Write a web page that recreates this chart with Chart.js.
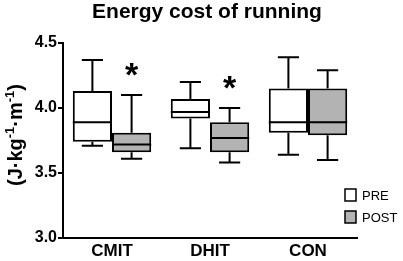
<!DOCTYPE html>
<html>
<head>
<meta charset="utf-8">
<script src="https://cdn.jsdelivr.net/npm/chart.js@4"></script>
<style>
  html, body { margin: 0; padding: 0; background: #fff; }
  canvas { display: block; }
</style>
</head>
<body>
<canvas id="boxChart" width="403" height="261"></canvas>
<script>
// Energy cost of running, J·kg-1·m-1
const categories = ['CMIT', 'DHIT', 'CON'];
const seriesNames = ['PRE', 'POST'];

const preMin = [3.71, 3.69, 3.64];
const preQ1 = [3.74, 3.92, 3.81];
const preMedian = [3.89, 3.97, 3.89];
const preQ3 = [4.13, 4.07, 4.15];
const preMax = [4.37, 4.20, 4.39];

const postMin = [3.61, 3.58, 3.60];
const postQ1 = [3.66, 3.66, 3.79];
const postMedian = [3.72, 3.77, 3.89];
const postQ3 = [3.81, 3.89, 4.15];
const postMax = [4.10, 4.00, 4.29];

// asterisk over POST box where PRE vs POST differs
const significant = [true, true, false];

const yTicks = [3.0, 3.5, 4.0, 4.5];

const FONT = "'Liberation Sans', Arial, sans-serif";
const GRAY = '#b3b3b3';

const stats = [
  { min: preMin, median: preMedian, max: preMax },
  { min: postMin, median: postMedian, max: postMax }
];

// whiskers, medians, asterisks, titles and legend
const boxExtras = {
  id: 'boxExtras',
  afterDatasetsDraw(chart) {
    const ctx = chart.ctx;
    const y = chart.scales.y;
    ctx.save();
    ctx.strokeStyle = '#000';
    ctx.lineWidth = 2;
    chart.data.datasets.forEach((ds, di) => {
      const meta = chart.getDatasetMeta(di);
      const st = stats[di];
      meta.data.forEach((bar, i) => {
        const x = bar.x;
        const hw = bar.width / 2;
        const cap = bar.width * 0.27;
        const yMed = y.getPixelForValue(st.median[i]);
        const yMin = y.getPixelForValue(st.min[i]);
        const yMax = y.getPixelForValue(st.max[i]);
        const yTop = y.getPixelForValue(ds.data[i][1]);
        const yBot = y.getPixelForValue(ds.data[i][0]);
        ctx.beginPath();
        // median
        ctx.moveTo(x - hw, yMed); ctx.lineTo(x + hw, yMed);
        // upper whisker
        ctx.moveTo(x, yTop); ctx.lineTo(x, yMax);
        ctx.moveTo(x - cap, yMax); ctx.lineTo(x + cap, yMax);
        // lower whisker
        ctx.moveTo(x, yBot); ctx.lineTo(x, yMin);
        ctx.moveTo(x - cap, yMin); ctx.lineTo(x + cap, yMin);
        ctx.stroke();

        if (di === 1 && significant[i]) {
          ctx.fillStyle = '#000';
          ctx.font = 'bold 34px ' + FONT;
          ctx.textAlign = 'center';
          ctx.textBaseline = 'alphabetic';
          ctx.fillText('*', x, yMax - 9);
        }
      });
    });
    ctx.restore();
  },
  afterDraw(chart) {
    const ctx = chart.ctx;
    ctx.save();
    ctx.fillStyle = '#000';

    // main title
    ctx.font = 'bold 21px ' + FONT;
    ctx.textAlign = 'center';
    ctx.textBaseline = 'alphabetic';
    ctx.fillText('Energy cost of running', 207, 18);

    // y axis title with superscripts
    const parts = [
      { t: '(J\u00b7kg', sup: false },
      { t: '-1', sup: true },
      { t: '\u00b7m', sup: false },
      { t: '-1', sup: true },
      { t: ')', sup: false }
    ];
    const big = 'bold 20px ' + FONT;
    const small = 'bold 13px ' + FONT;
    let total = 0;
    parts.forEach(p => {
      ctx.font = p.sup ? small : big;
      p.w = ctx.measureText(p.t).width;
      total += p.w;
    });
    ctx.translate(22, 135);
    ctx.rotate(-Math.PI / 2);
    ctx.textAlign = 'left';
    let px = -total / 2;
    parts.forEach(p => {
      ctx.font = p.sup ? small : big;
      ctx.fillText(p.t, px, p.sup ? -8 : 0);
      px += p.w;
    });
    ctx.setTransform(1, 0, 0, 1, 0, 0);

    // legend
    const fills = ['#fff', GRAY];
    ctx.font = '13px ' + FONT;
    ctx.textBaseline = 'middle';
    ctx.textAlign = 'left';
    seriesNames.forEach((name, k) => {
      const cy = 195 + k * 22;
      ctx.fillStyle = fills[k];
      ctx.fillRect(345, cy - 6, 11, 12);
      ctx.strokeStyle = '#000';
      ctx.lineWidth = 1.5;
      ctx.strokeRect(345, cy - 6, 11, 12);
      ctx.fillStyle = '#000';
      ctx.fillText(name, 362, cy + 1);
    });
    ctx.restore();
  }
};

new Chart(document.getElementById('boxChart'), {
  type: 'bar',
  data: {
    labels: categories,
    datasets: [
      {
        label: seriesNames[0],
        data: categories.map((c, i) => [preQ1[i], preQ3[i]]),
        backgroundColor: '#fff',
        borderColor: '#000',
        borderWidth: 2,
        borderSkipped: false
      },
      {
        label: seriesNames[1],
        data: categories.map((c, i) => [postQ1[i], postQ3[i]]),
        backgroundColor: GRAY,
        borderColor: '#000',
        borderWidth: 2,
        borderSkipped: false
      }
    ]
  },
  options: {
    responsive: false,
    animation: false,
    events: [],
    layout: { padding: { left: 0, right: 46, top: 43, bottom: 0 } },
    datasets: { bar: { categoryPercentage: 0.8, barPercentage: 1.0 } },
    plugins: {
      legend: { display: false },
      title: { display: false },
      tooltip: { enabled: false }
    },
    scales: {
      x: {
        grid: { display: false, drawTicks: false },
        border: { display: true, color: '#000', width: 2 },
        ticks: {
          color: '#000',
          padding: 3,
          font: { family: FONT, size: 17, weight: 'bold' }
        },
        afterFit(scale) { scale.height = 23; }
      },
      y: {
        min: 3.0,
        max: 4.5,
        afterBuildTicks(scale) { scale.ticks = yTicks.map(v => ({ value: v })); },
        grid: {
          display: true,
          drawOnChartArea: false,
          drawTicks: true,
          tickLength: 5,
          color: '#000',
          lineWidth: 2
        },
        border: { display: true, color: '#000', width: 2 },
        ticks: {
          color: '#000',
          padding: 1,
          font: { family: FONT, size: 16, weight: 'bold' },
          callback: v => v.toFixed(1)
        },
        afterFit(scale) { scale.width = 63; }
      }
    }
  },
  plugins: [boxExtras]
});
</script>
</body>
</html>
